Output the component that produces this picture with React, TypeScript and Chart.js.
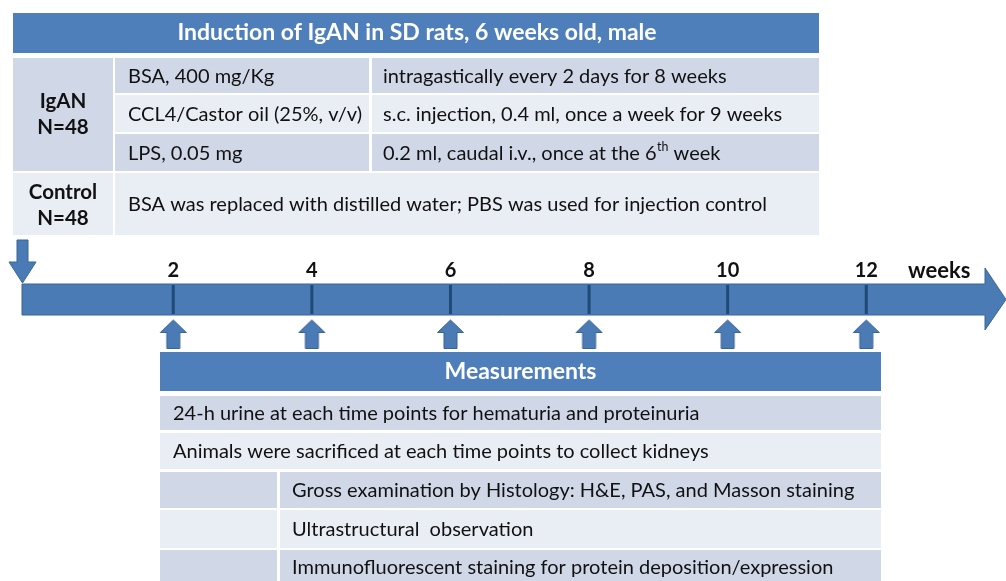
import React, { useEffect, useRef } from "react";
import { Chart, registerables } from "chart.js";

Chart.register(...registerables);

// ---------- data ----------
const weeks = [2, 4, 6, 8, 10, 12];
const weekLabels = ["2", "4", "6", "8", "10", "12"];
const unitLabel = "weeks";
const topTitle = "Induction of IgAN in SD rats, 6 weeks old, male";
const igaGroup = ["IgAN", "N=48"];
const controlGroup = ["Control", "N=48"];
const agents = ["BSA, 400 mg/Kg", "CCL4/Castor oil (25%, v/v)", "LPS, 0.05 mg"];
const regimens = [
  "intragastically every 2 days for 8 weeks",
  "s.c. injection, 0.4 ml, once a week for 9 weeks",
  "0.2 ml, caudal i.v., once at the 6^th week",
];
const controlText = "BSA was replaced with distilled water; PBS was used for injection control";
const bottomTitle = "Measurements";
const measureMain = [
  "24-h urine at each time points for hematuria and proteinuria",
  "Animals were sacrificed at each time points to collect kidneys",
];
const measureSub = [
  "Gross examination by Histology: H&E, PAS, and Masson staining",
  "Ultrastructural  observation",
  "Immunofluorescent staining for protein deposition/expression",
];

// ---------- layout / style ----------
const W = 1006;
const H = 581;
const X_MIN = -0.5;
const X_MAX = 14.016;
const FONT = 'Lato, "Noto Sans", sans-serif';
const BODY_SIZE = 20;
const HEAD_BLUE = "#4F7FBA";
const DARK = "#D0D8E8";
const LIGHT = "#E9EDF4";
const SHAPE_FILL = "#4B7BB5";
const SHAPE_LINE = "#3A6494";
const TICK_LINE = "#1F4A78";
const TEXT = "#111111";

const TOP = { x0: 13, x1: 819, c1: 113, c2a: 115, c2b: 369, c3: 372, headY0: 13, headY1: 53 };
const TOP_ROWS = [
  [58, 93],
  [95, 132],
  [134, 171],
];
const CTRL_ROW = [173, 235];
const BAR = { x0: 22, x1: 985, y0: 284, y1: 315, headY0: 268, headY1: 330, tip: 1006 };
const LABEL_Y = 271;
const ARROW_Y = 334;
const BOT = { x0: 160, x1: 881, sub0: 277, sub1: 280, headY0: 352, headY1: 391 };
const BOT_ROWS = [
  [396, 430],
  [433, 469],
  [472, 508],
  [510, 548],
  [550, 585],
];

function makeUpArrow(): HTMLCanvasElement {
  const c = document.createElement("canvas");
  c.width = 29;
  c.height = 30;
  const g = c.getContext("2d")!;
  g.beginPath();
  g.moveTo(14.5, 1);
  g.lineTo(27.5, 13.5);
  g.lineTo(21, 13.5);
  g.lineTo(21, 29.5);
  g.lineTo(8, 29.5);
  g.lineTo(8, 13.5);
  g.lineTo(1.5, 13.5);
  g.closePath();
  g.fillStyle = SHAPE_FILL;
  g.fill();
  g.strokeStyle = SHAPE_LINE;
  g.lineWidth = 1;
  g.stroke();
  return c;
}

function drawRich(ctx: CanvasRenderingContext2D, text: string, x: number, y: number, size: number) {
  const m = text.match(/^(.*)\^(\S+)(.*)$/);
  ctx.textAlign = "left";
  ctx.textBaseline = "middle";
  ctx.font = `${size}px ${FONT}`;
  if (!m) {
    ctx.fillText(text, x, y);
    return;
  }
  ctx.fillText(m[1], x, y);
  let cx = x + ctx.measureText(m[1]).width;
  ctx.font = `${size * 0.62}px ${FONT}`;
  ctx.fillText(m[2], cx + 0.5, y - size * 0.35);
  cx += ctx.measureText(m[2]).width + 0.5;
  ctx.font = `${size}px ${FONT}`;
  ctx.fillText(m[3], cx, y);
}

const diagramPlugin = {
  id: "diagram",
  beforeDatasetsDraw(chart: any) {
    const ctx: CanvasRenderingContext2D = chart.ctx;
    const xs = chart.scales.x;
    const ys = chart.scales.y;
    const Y = (v: number) => ys.getPixelForValue(v);
    ctx.save();

    const rect = (x0: number, y0: number, x1: number, y1: number, col: string) => {
      ctx.fillStyle = col;
      ctx.fillRect(x0, Y(y0), x1 - x0, Y(y1) - Y(y0));
    };

    // ---- top table ----
    rect(TOP.x0, TOP.headY0, TOP.x1, TOP.headY1, HEAD_BLUE);
    ctx.fillStyle = "#ffffff";
    ctx.font = `bold 23px ${FONT}`;
    ctx.textAlign = "center";
    ctx.textBaseline = "middle";
    ctx.fillText(topTitle, (TOP.x0 + TOP.x1) / 2 + 1, Y((TOP.headY0 + TOP.headY1) / 2));

    rect(TOP.x0, TOP_ROWS[0][0], TOP.c1, TOP_ROWS[2][1], DARK);
    TOP_ROWS.forEach((r, i) => {
      const col = i % 2 === 0 ? DARK : LIGHT;
      rect(TOP.c2a, r[0], TOP.c2b, r[1], col);
      rect(TOP.c3, r[0], TOP.x1, r[1], col);
      ctx.fillStyle = TEXT;
      drawRich(ctx, agents[i], 128, Y((r[0] + r[1]) / 2 + 1), BODY_SIZE);
      drawRich(ctx, regimens[i], 383, Y((r[0] + r[1]) / 2 + 1), BODY_SIZE);
    });
    rect(TOP.x0, CTRL_ROW[0], TOP.c1, CTRL_ROW[1], LIGHT);
    rect(TOP.c2a, CTRL_ROW[0], TOP.x1, CTRL_ROW[1], LIGHT);
    ctx.fillStyle = TEXT;
    drawRich(ctx, controlText, 128, Y((CTRL_ROW[0] + CTRL_ROW[1]) / 2 + 1), BODY_SIZE);

    ctx.font = `bold 20.5px ${FONT}`;
    ctx.textAlign = "center";
    const gx = (TOP.x0 + TOP.c1) / 2;
    ctx.fillText(igaGroup[0], gx, Y(101));
    ctx.fillText(igaGroup[1], gx, Y(127));
    ctx.fillText(controlGroup[0], gx, Y(192));
    ctx.fillText(controlGroup[1], gx, Y(218));

    // ---- timeline ----
    const yb0 = Y(BAR.y0);
    const yb1 = Y(BAR.y1);
    const ym = (yb0 + yb1) / 2;
    ctx.beginPath();
    ctx.moveTo(BAR.x0, yb0);
    ctx.lineTo(BAR.x1, yb0);
    ctx.lineTo(BAR.x1, Y(BAR.headY0));
    ctx.lineTo(BAR.tip, ym);
    ctx.lineTo(BAR.x1, Y(BAR.headY1));
    ctx.lineTo(BAR.x1, yb1);
    ctx.lineTo(BAR.x0, yb1);
    ctx.closePath();
    ctx.fillStyle = SHAPE_FILL;
    ctx.fill();
    ctx.strokeStyle = SHAPE_LINE;
    ctx.lineWidth = 1;
    ctx.stroke();

    // start arrow (down)
    const sx = BAR.x0 + 0.5;
    ctx.beginPath();
    ctx.moveTo(sx - 5.5, Y(240));
    ctx.lineTo(sx + 5.5, Y(240));
    ctx.lineTo(sx + 5.5, Y(262));
    ctx.lineTo(sx + 13.5, Y(262));
    ctx.lineTo(sx, Y(283));
    ctx.lineTo(sx - 13.5, Y(262));
    ctx.lineTo(sx - 5.5, Y(262));
    ctx.closePath();
    ctx.fillStyle = SHAPE_FILL;
    ctx.fill();
    ctx.strokeStyle = SHAPE_LINE;
    ctx.stroke();

    // week ticks + labels
    weeks.forEach((w, i) => {
      const px = xs.getPixelForValue(w);
      ctx.strokeStyle = TICK_LINE;
      ctx.lineWidth = 3;
      ctx.beginPath();
      ctx.moveTo(px, yb0 + 1);
      ctx.lineTo(px, yb1 - 1);
      ctx.stroke();
      ctx.fillStyle = TEXT;
      ctx.font = `bold 20px ${FONT}`;
      ctx.textAlign = "center";
      ctx.textBaseline = "middle";
      ctx.fillText(weekLabels[i], px, Y(LABEL_Y));
    });
    ctx.textAlign = "left";
    ctx.font = `bold 22px ${FONT}`;
    ctx.fillText(unitLabel, 908, Y(LABEL_Y));

    // ---- bottom table ----
    rect(BOT.x0, BOT.headY0, BOT.x1, BOT.headY1, HEAD_BLUE);
    ctx.fillStyle = "#ffffff";
    ctx.font = `bold 23px ${FONT}`;
    ctx.textAlign = "center";
    ctx.fillText(bottomTitle, (BOT.x0 + BOT.x1) / 2, Y((BOT.headY0 + BOT.headY1) / 2));

    BOT_ROWS.forEach((r, i) => {
      const col = i % 2 === 0 ? DARK : LIGHT;
      const cy = Y((r[0] + r[1]) / 2 + 1);
      if (i < measureMain.length) {
        rect(BOT.x0, r[0], BOT.x1, r[1], col);
        ctx.fillStyle = TEXT;
        drawRich(ctx, measureMain[i], 173, cy, BODY_SIZE);
      } else {
        rect(BOT.x0, r[0], BOT.sub0, r[1], col);
        rect(BOT.sub1, r[0], BOT.x1, r[1], col);
        ctx.fillStyle = TEXT;
        const ty = i === BOT_ROWS.length - 1 ? Y(568) : cy;
        drawRich(ctx, measureSub[i - measureMain.length], 292, ty, BODY_SIZE);
      }
    });

    ctx.restore();
  },
};

export default function App() {
  const ref = useRef<HTMLCanvasElement>(null);
  useEffect(() => {
    document.body.style.margin = "0";
    const arrow = makeUpArrow();
    const chart = new Chart(ref.current!, {
      type: "scatter",
      data: {
        datasets: [
          {
            label: "measurement",
            data: weeks.map((w) => ({ x: w, y: ARROW_Y })),
            pointStyle: arrow as any,
            pointRadius: 10,
            backgroundColor: SHAPE_FILL,
            borderColor: SHAPE_LINE,
          },
        ],
      },
      options: {
        responsive: false,
        animation: false,
        events: [],
        layout: { padding: 0, autoPadding: false },
        plugins: { legend: { display: false }, tooltip: { enabled: false } },
        scales: {
          x: { type: "linear", min: X_MIN, max: X_MAX, display: false },
          y: { type: "linear", min: 0, max: H, reverse: true, display: false },
        },
      },
      plugins: [diagramPlugin],
    });
    return () => chart.destroy();
  }, []);
  return <canvas ref={ref} width={W} height={H} style={{ display: "block" }} />;
}
